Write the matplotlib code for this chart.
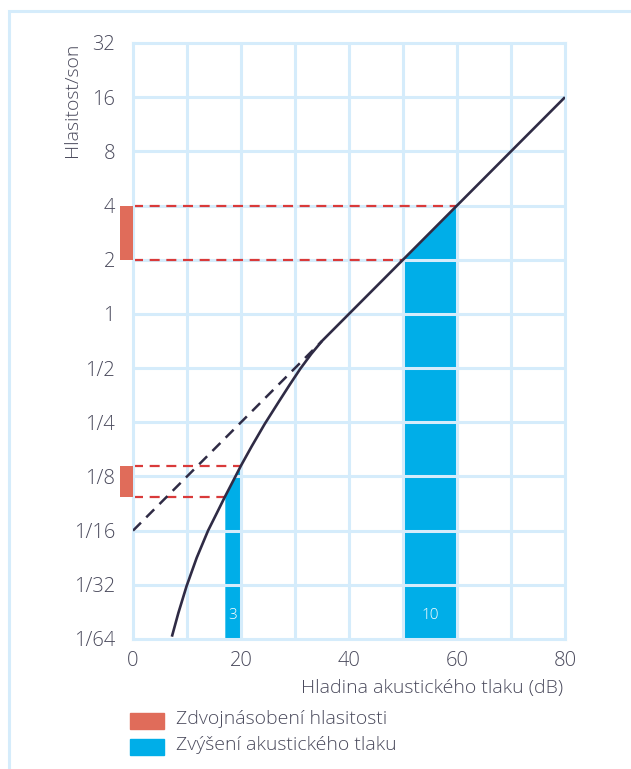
import numpy as np
import matplotlib
matplotlib.use('Agg')
import matplotlib.pyplot as plt
from matplotlib.patches import Rectangle

plt.rcParams['font.family'] = ['Open Sans', 'DejaVu Sans']

# Křivka hlasitosti (dB -> son)
curve_db = [7.2, 8.4, 9.9, 11.8, 13.9, 15.5, 17.0, 18.5, 20.0, 22.0, 24.4, 27.0, 29.0,
            31.0, 33.0, 35.0, 37.0, 40.0, 50.0, 60.0, 70.0, 80.0]
curve_son = [0.0161, 0.0218, 0.0306, 0.0442, 0.0625, 0.0780, 0.0961, 0.1174, 0.1436,
             0.1842, 0.2449, 0.3253, 0.4033, 0.4966, 0.5987, 0.7071, 0.8123,
             1.0, 2.0, 4.0, 8.0, 16.0]

# Přerušovaná extrapolace
dash_db = [0, 35]
dash_son = [0.0625, 0.707]

# Zdvojnásobení hlasitosti (úrovně, konec v dB)
red_levels = [4.0, 2.0, 0.1436, 0.0961]
red_ends = [60, 50, 20, 17]
red_spans = [(2.0, 4.0), (0.0961, 0.1436)]

# Zvýšení akustického tlaku
blue_ranges = [(17, 20), (50, 60)]
blue_labels = ['3', '10']

y_ticks = [1/64, 1/32, 1/16, 1/8, 1/4, 1/2, 1, 2, 4, 8, 16, 32]
y_labels = ['1/64', '1/32', '1/16', '1/8', '1/4', '1/2', '1', '2', '4', '8', '16', '32']
x_ticks = [0, 20, 40, 60, 80]

grid_c = '#d5ecfb'
text_c = '#4a4a5c'
curve_c = '#2f2b45'
blue_c = '#00aee8'
red_c = '#d93a3a'
redbar_c = '#e06c5a'

W, H = 631, 769
fig = plt.figure(figsize=(W / 100, H / 100), dpi=100)
ax = fig.add_axes([133 / W, 1 - 639 / H, (565 - 133) / W, (639 - 43) / H])
ax.set_yscale('log', base=2)
ax.set_xlim(0, 80)
ax.set_ylim(1/64, 32)

# mřížka
for x in range(10, 80, 10):
    ax.axvline(x, color=grid_c, lw=2.2, zorder=1.5)
for y in y_ticks[1:-1]:
    ax.axhline(y, color=grid_c, lw=2.2, zorder=1.5)
for s in ax.spines.values():
    s.set_color(grid_c)
    s.set_linewidth(2.2)

# modré sloupce pod křivkou
db = np.array(curve_db)
for (a, b), lab in zip(blue_ranges, blue_labels):
    ax.fill_between(curve_db, 1/64, curve_son, where=(db >= a) & (db <= b),
                    color=blue_c, lw=0, zorder=1)
    ax.text((a + b) / 2, 0.021, lab, color='white', ha='center', va='center',
            fontsize=11, fontweight='light', zorder=4)

# červené přerušované čáry
for lvl, end in zip(red_levels, red_ends):
    ax.plot([0, end], [lvl, lvl], color=red_c, lw=1.6, dashes=(4.5, 3), zorder=2)
for lo, hi in red_spans:
    ax.add_patch(Rectangle((-2.4, lo), 2.4, hi - lo, color=redbar_c, lw=0,
                           clip_on=False, zorder=3))

ax.plot(dash_db, dash_son, color=curve_c, lw=1.8, dashes=(4.5, 3), zorder=3)
ax.plot(curve_db, curve_son, color=curve_c, lw=1.9, zorder=3,
        solid_joinstyle='round', solid_capstyle='butt')

ax.set_yticks(y_ticks)
ax.set_yticklabels(y_labels)
ax.minorticks_off()
ax.set_xticks(x_ticks)
ax.tick_params(length=0, labelsize=14.5, colors=text_c)
ax.tick_params(axis='y', pad=13)
ax.tick_params(axis='x', pad=9)
for lbl in ax.get_xticklabels() + ax.get_yticklabels():
    lbl.set_fontweight('light')

fig.text(72 / W, 1 - 43 / H, 'Hlasitost/son', rotation=90, ha='center', va='top',
         fontsize=14, color=text_c, fontweight='light')
fig.text(563 / W, 1 - 688 / H, 'Hladina akustického tlaku (dB)', ha='right', va='center',
         fontsize=14, color=text_c, fontweight='light')

# legenda
fig.patches.append(Rectangle((130 / W, 1 - 729 / H), 34 / W, 16 / H, color=redbar_c,
                             transform=fig.transFigure))
fig.patches.append(Rectangle((130 / W, 1 - 755 / H), 34 / W, 16 / H, color=blue_c,
                             transform=fig.transFigure))
fig.text(176 / W, 1 - 719 / H, 'Zdvojnásobení hlasitosti', va='center', fontsize=14,
         color=text_c, fontweight='light')
fig.text(176 / W, 1 - 745 / H, 'Zvýšení akustického tlaku', va='center', fontsize=14,
         color=text_c, fontweight='light')

# rámeček
fig.patches.append(Rectangle((9 / W, -0.1), 1.0, 1 - 11 / H + 0.1, fill=False,
                             edgecolor=grid_c, lw=2.2, transform=fig.transFigure))

fig.savefig('out.png', dpi=100)
